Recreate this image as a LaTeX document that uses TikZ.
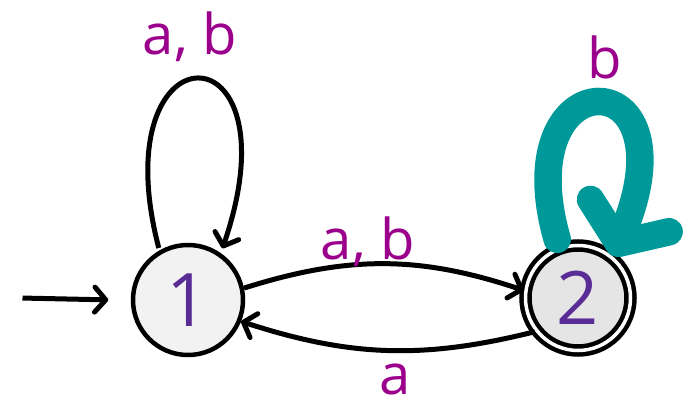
\documentclass[tikz,border=0pt]{standalone}
\usepackage{fontspec}
\setmainfont{Open Sans}
\usetikzlibrary{positioning, arrows.meta}
\definecolor{labelpink}{RGB}{155, 0, 140}
\definecolor{statepurple}{RGB}{90, 45, 150}
\definecolor{loopteal}{RGB}{0, 153, 153}

\begin{document}
\begin{tikzpicture}[
    state/.style={circle, draw=black, line width=0.09cm, minimum size=2.2cm, inner sep=0pt, fill=black!5, text=statepurple, font=\fontsize{42}{48}\selectfont},
    accepting/.style={state, fill=black!10, double=white, double distance=0.07cm, minimum size=2.1cm},
    arrow/.style={-{Straight Barb[length=0.22cm, width=0.5cm, round]}, line width=0.1cm, black},
    bigarrow/.style={-{Straight Barb[length=0.6cm, width=1.7cm, round]}, line width=0.55cm, loopteal, line cap=round},
    label/.style={font=\fontsize{32}{36}\selectfont, text=labelpink, inner sep=1pt}
]
    \useasboundingbox (0,0) rectangle (14,8.14);

    % States
    \node[state] (one) at (3.76,2.14) {1};
    \node[accepting] (two) at (11.56,2.18) {2};
    \coordinate (start) at (0.4,2.18);

    % Transitions
    \draw[arrow, shorten <=0.05cm, shorten >=0.1cm] (start) -- ([xshift=-0.35cm]one.west);
    \draw[arrow, shorten <=0.05cm, shorten >=0.1cm] (one.120) .. controls (2.0,7.7) and (6.0,7.7) .. (one.55);
    \draw[arrow] (one.12) to[bend left=18] (two.172);
    \draw[arrow] (two.218) to[bend left=16] (one.338);
    \draw[bigarrow, shorten <=0.15cm] (two.110) .. controls (10.1,7.0) and (13.9,7.0) .. (two.50);

    % Labels
    \node[label] (lone) at (3.8,7.4) {a, b};
    \node[label] (ltop) at (7.36,3.3) {a, b};
    \node[label] (lbot) at (7.9,0.55) {a};
    \node[label] (ltwo) at (12.1,7.0) {b};
\end{tikzpicture}
\end{document}
